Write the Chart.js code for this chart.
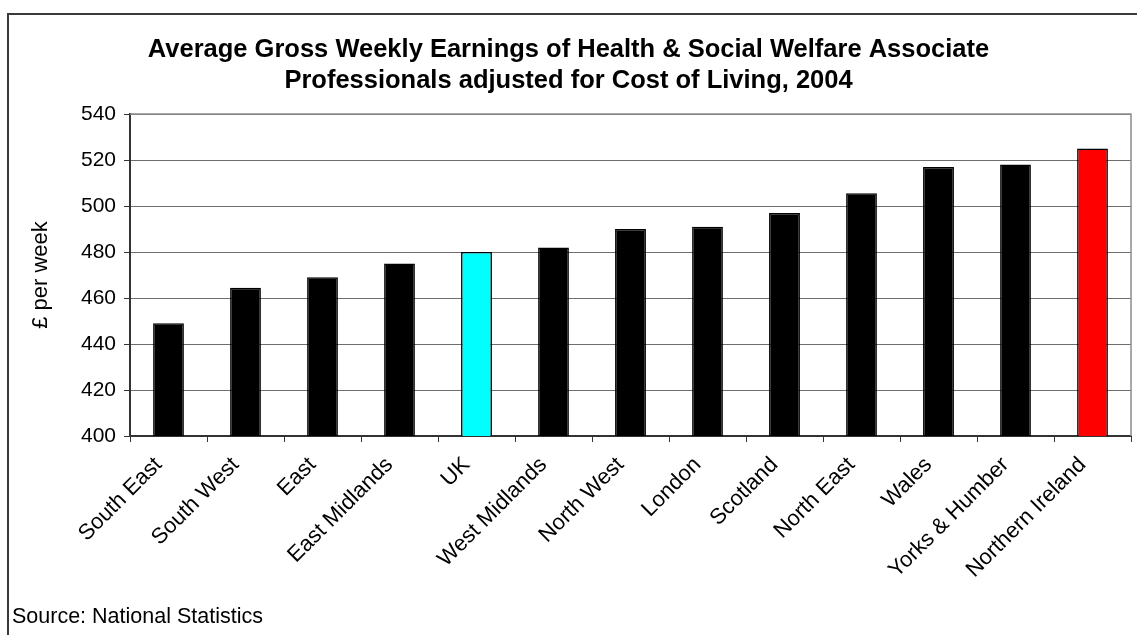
<!DOCTYPE html>
<html>
<head>
<meta charset="utf-8">
<script src="https://cdn.jsdelivr.net/npm/chart.js@4/dist/chart.umd.min.js"></script>
<style>
  html, body { margin: 0; padding: 0; background: #ffffff; }
  #wrap { position: relative; width: 1137px; height: 635px; }
</style>
</head>
<body>
<div id="wrap"><canvas id="c" width="1137" height="635"></canvas></div>
<script>
// Regions, ordered from lowest to highest adjusted earnings
const regions = ['South East', 'South West', 'East', 'East Midlands', 'UK', 'West Midlands',
  'North West', 'London', 'Scotland', 'North East', 'Wales', 'Yorks & Humber', 'Northern Ireland'];
// Average gross weekly earnings (£), adjusted for cost of living
const earnings = [449, 464.5, 469, 475, 480, 482, 490, 491, 497, 505.5, 517, 518, 525];
// Y axis range and step
const yMin = 400, yMax = 540, yStep = 20;

const titleLines = ['Average Gross Weekly Earnings of Health & Social Welfare Associate',
  'Professionals adjusted for Cost of Living, 2004'];
const sourceText = 'Source: National Statistics';

const FONT = '"Liberation Sans", Arial, Helvetica, sans-serif';
const specialFill = { 'UK': '#00FFFF', 'Northern Ireland': '#FF0000' };

const fills = regions.map(r => specialFill[r] || '#000000');

// Frame, title, source note and plot-area border
const decor = {
  id: 'decor',
  beforeDraw(chart) {
    const ctx = chart.ctx;
    ctx.save();
    ctx.fillStyle = '#ffffff';
    ctx.fillRect(0, 0, chart.width, chart.height);
    ctx.restore();
  },
  afterDatasetsDraw(chart) {
    const ctx = chart.ctx;
    const a = chart.chartArea;
    ctx.save();
    // plot area border (top and right)
    ctx.strokeStyle = '#8c8c8c';
    ctx.lineWidth = 1.5;
    ctx.beginPath();
    ctx.moveTo(a.left, a.top);
    ctx.lineTo(a.right, a.top);
    ctx.lineTo(a.right, a.bottom);
    ctx.stroke();
    ctx.restore();
  },
  afterDraw(chart) {
    const ctx = chart.ctx;
    ctx.save();
    // outer chart frame
    ctx.strokeStyle = '#3a3a3a';
    ctx.lineWidth = 2;
    ctx.beginPath();
    ctx.moveTo(8, chart.height + 2);
    ctx.lineTo(8, 14);
    ctx.lineTo(chart.width + 2, 14);
    ctx.stroke();
    // title
    ctx.fillStyle = '#000000';
    ctx.textAlign = 'center';
    ctx.textBaseline = 'middle';
    ctx.font = 'bold 25.5px ' + FONT;
    ctx.fillText(titleLines[0], chart.width / 2, 50);
    ctx.fillText(titleLines[1], chart.width / 2, 81);
    // source note
    ctx.textAlign = 'left';
    ctx.font = '21.5px ' + FONT;
    ctx.fillText(sourceText, 12, 617);
    ctx.restore();
  }
};

new Chart(document.getElementById('c'), {
  type: 'bar',
  data: {
    labels: regions,
    datasets: [{
      data: earnings,
      backgroundColor: fills,
      borderColor: '#000000',
      borderWidth: 1.5,
      barPercentage: 0.4,
      categoryPercentage: 1.0
    }]
  },
  options: {
    responsive: false,
    animation: false,
    devicePixelRatio: 1,
    layout: { padding: { left: 0, top: 114, right: 6, bottom: 0 } },
    plugins: {
      legend: { display: false },
      tooltip: { enabled: false },
      title: { display: false }
    },
    scales: {
      x: {
        offset: true,
        grid: {
          offset: true,
          drawOnChartArea: false,
          drawTicks: true,
          tickLength: 6,
          color: '#333333',
          lineWidth: 1
        },
        border: { display: true, color: '#333333', width: 2 },
        ticks: {
          color: '#000000',
          font: { family: FONT, size: 22 },
          minRotation: 45,
          maxRotation: 45,
          autoSkip: false,
          padding: 10,
          labelOffset: -10
        },
        afterFit(scale) { scale.height = 635 - 436; }
      },
      y: {
        min: yMin,
        max: yMax,
        grid: {
          color: '#6e6e6e',
          lineWidth: 1,
          tickLength: 6,
          tickColor: '#333333'
        },
        border: { display: true, color: '#333333', width: 2 },
        ticks: {
          stepSize: yStep,
          color: '#000000',
          font: { family: FONT, size: 21 },
          padding: 8
        },
        title: {
          display: true,
          text: '£ per week',
          color: '#000000',
          font: { family: FONT, size: 22 },
          padding: { top: 28, bottom: 0 }
        },
        afterFit(scale) { scale.width = 130; }
      }
    }
  },
  plugins: [decor]
});
</script>
</body>
</html>
